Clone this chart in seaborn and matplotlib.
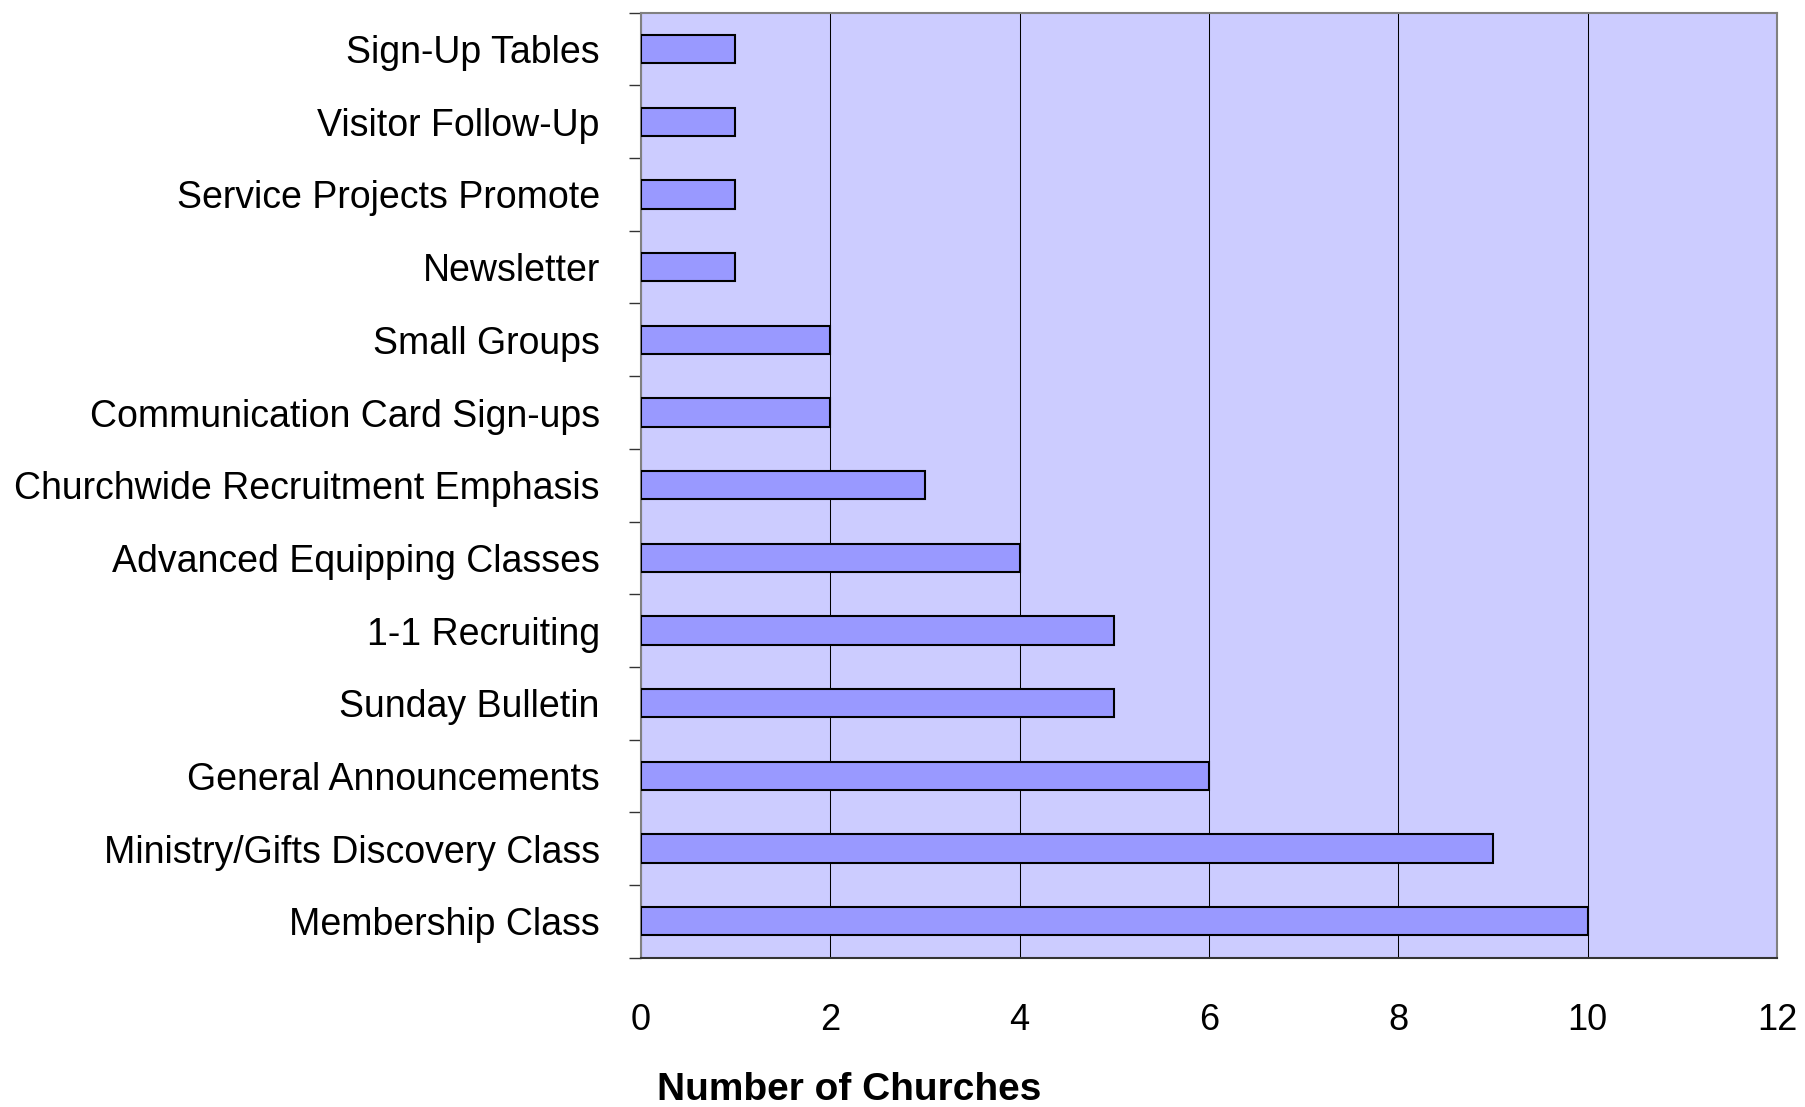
import pandas as pd
import matplotlib
matplotlib.use("Agg")
import matplotlib.pyplot as plt
import seaborn as sns

methods = [
    "Sign-Up Tables",
    "Visitor Follow-Up",
    "Service Projects Promote",
    "Newsletter",
    "Small Groups",
    "Communication Card Sign-ups",
    "Churchwide Recruitment Emphasis",
    "Advanced Equipping Classes",
    "1-1 Recruiting",
    "Sunday Bulletin",
    "General Announcements",
    "Ministry/Gifts Discovery Class",
    "Membership Class",
]
counts = [1, 1, 1, 1, 2, 2, 3, 4, 5, 5, 6, 9, 10]
x_ticks = [0, 2, 4, 6, 8, 10, 12]

df = pd.DataFrame({"method": methods, "count": counts})

sns.set_style("white")
plt.rcParams["font.family"] = ["Liberation Sans", "DejaVu Sans"]
plt.rcParams["text.color"] = "black"
plt.rcParams["xtick.color"] = "black"
plt.rcParams["ytick.color"] = "black"

fig = plt.figure(figsize=(18.05, 11.07), dpi=100)
ax = fig.add_axes([0.355, 0.1349, 0.6295, 0.8536])

sns.barplot(data=df, x="count", y="method", color="#9999FF", saturation=1,
            edgecolor="black", linewidth=1.5, width=0.39, ax=ax, zorder=3)

ax.set_facecolor("#CCCCFF")
ax.set_xlim(0, 12)
ax.set_ylim(len(methods) - 0.5, -0.5)
ax.set_xticks(x_ticks)
ax.set_xticklabels([str(t) for t in x_ticks])
ax.xaxis.grid(True, color="black", linewidth=0.75)
ax.set_axisbelow(True)

# category ticks sit on the boundaries between bars
ax.set_yticks([i - 0.5 for i in range(len(methods) + 1)], minor=True)
ax.tick_params(axis="y", which="major", length=0, pad=29.5, labelsize=27,
               labelcolor="black")
ax.tick_params(axis="y", which="minor", length=8.6, width=1, color="#333333", left=True)
ax.tick_params(axis="x", length=8.6, width=1, color="#333333", pad=24, labelsize=26,
               labelcolor="black")

for side in ["left", "top", "right"]:
    ax.spines[side].set_color("#808080")
    ax.spines[side].set_linewidth(1.5)
ax.spines["bottom"].set_color("#333333")
ax.spines["bottom"].set_linewidth(1.5)

ax.set_xlabel("")
ax.set_ylabel("")
fig.text(657 / 1805, 1 - 1100 / 1107, "Number of Churches", fontsize=28,
         fontweight="bold", ha="left", va="baseline")

fig.savefig("out.png", dpi=100)
